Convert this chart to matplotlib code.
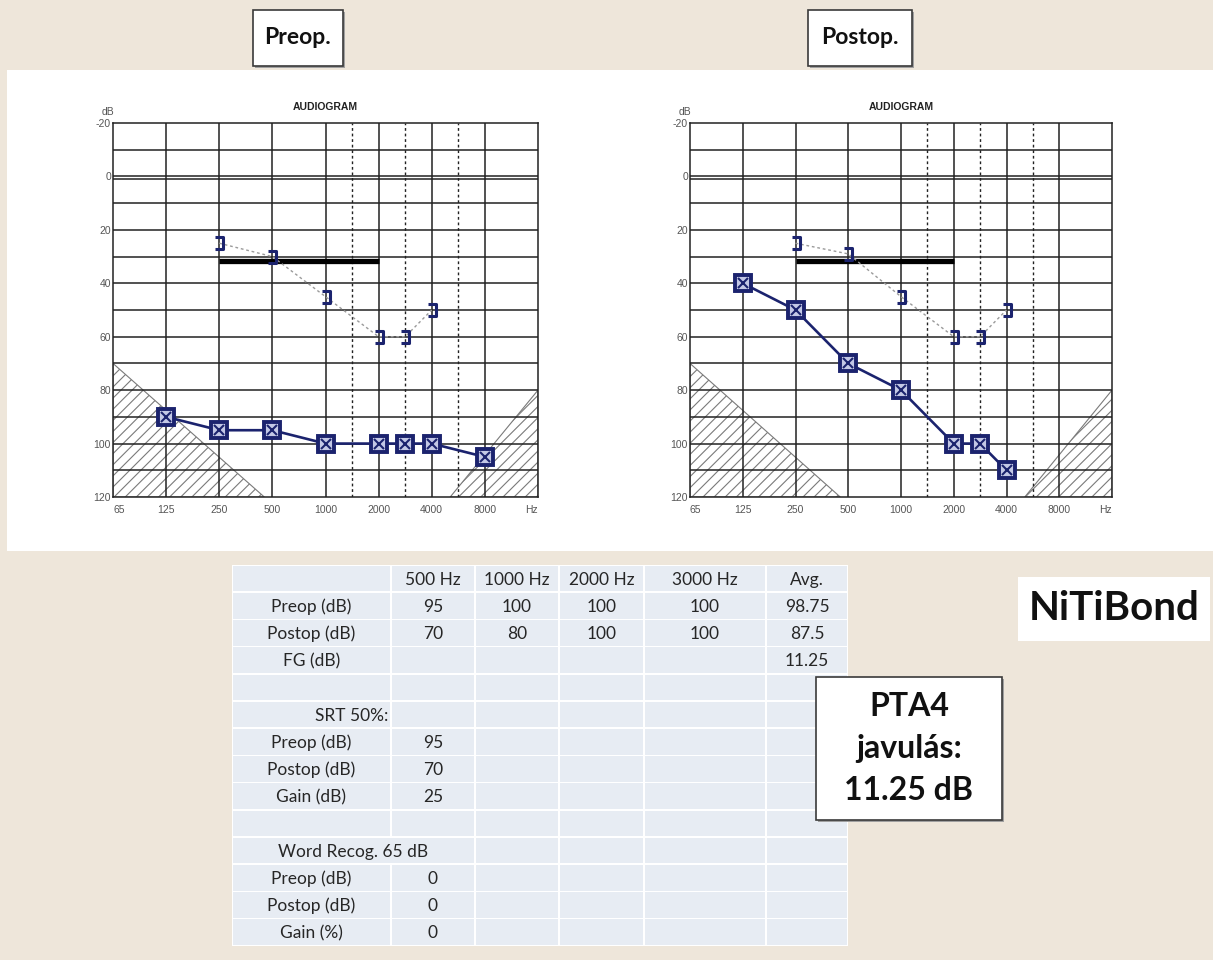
import numpy as np
import matplotlib
matplotlib.use("Agg")
import matplotlib.pyplot as plt
from matplotlib.patches import Rectangle, Polygon
from matplotlib.path import Path
from matplotlib.ticker import NullLocator

plt.rcParams['font.family'] = ['Lato', 'DejaVu Sans']
plt.rcParams['hatch.linewidth'] = 0.8
plt.rcParams['axes.unicode_minus'] = False

# ---------------- data ----------------
freq_ticks = [62.5, 125, 250, 500, 1000, 2000, 4000, 8000, 16000]
freq_labels = ['65', '125', '250', '500', '1000', '2000', '4000', '8000', 'Hz']
half_octaves = [1500, 3000, 6000]

ac_freqs_pre = [125, 250, 500, 1000, 2000, 3000, 4000, 8000]
ac_pre = [90, 95, 95, 100, 100, 100, 100, 105]
ac_freqs_post = [125, 250, 500, 1000, 2000, 3000, 4000]
ac_post = [40, 50, 70, 80, 100, 100, 110]

bc_freqs = [250, 500, 1000, 2000, 3000, 4000]
bc_pre = [25, 30, 45, 60, 60, 50]
bc_post = [25, 29, 45, 60, 60, 50]

bar_freqs = [250, 2000]
bar_level = 31.5

pta_header = ['', '500 Hz', '1000 Hz', '2000 Hz', '3000 Hz', 'Avg.']
pta_pre = [95, 100, 100, 100]
pta_post = [70, 80, 100, 100]
srt_pre, srt_post = 95, 70
word_pre, word_post = 0, 0

# ---------------- audiogram frequency scale ----------------
_scale_f = np.log2([62.5, 125, 250, 500, 1000, 1500, 2000, 3000, 4000, 6000, 8000, 16000])
_scale_p = np.array([0, 1, 2, 3, 4, 4.5, 5, 5.5, 6, 6.5, 7, 8], dtype=float)


def f_fwd(f):
    f = np.asarray(f, dtype=float)
    return np.interp(np.log2(np.clip(f, 1e-6, None)), _scale_f, _scale_p)


def f_inv(p):
    p = np.asarray(p, dtype=float)
    return 2 ** np.interp(p, _scale_p, _scale_f)


W, H = 1213, 960
NAVY = '#1b236e'
BEIGE = '#eee6da'

fig = plt.figure(figsize=(W / 100, H / 100), dpi=100, facecolor=BEIGE)

# background / annotation layer in pixel coordinates
bg = fig.add_axes([0, 0, 1, 1], zorder=0)
bg.set_xlim(0, W)
bg.set_ylim(H, 0)
bg.axis('off')
bg.add_patch(Rectangle((7, 70), W - 7, 481, facecolor='white', edgecolor='none'))

bracket = Path([(-0.6, 1), (0.6, 1), (0.6, -1), (-0.6, -1)],
               [Path.MOVETO, Path.LINETO, Path.LINETO, Path.LINETO])


def audiogram(rect, ac_f, ac_v, bc_v):
    l, t, w, h = rect
    ax = fig.add_axes([l / W, 1 - (t + h) / H, w / W, h / H], zorder=2)
    ax.set_xscale('function', functions=(f_fwd, f_inv))
    ax.set_xlim(62.5, 16000)
    ax.set_ylim(120, -20)
    ax.xaxis.set_minor_locator(NullLocator())
    ax.yaxis.set_minor_locator(NullLocator())

    # masking / no-response hatch zones
    ax.add_patch(Polygon([(62.5, 70), (450, 120), (62.5, 120)], closed=True,
                         facecolor='none', edgecolor='#7a7a7a', hatch='///',
                         lw=0.8, zorder=1))
    ax.add_patch(Polygon([(16000, 80), (5300, 120), (16000, 120)], closed=True,
                         facecolor='none', edgecolor='#7a7a7a', hatch='///',
                         lw=0.8, zorder=1))

    for y in range(-10, 120, 10):
        ax.axhline(y, color='#222222', lw=1.1, zorder=2)
    ax.axhline(1.1, color='#222222', lw=1.1, zorder=2)
    for f in freq_ticks[1:-1]:
        ax.axvline(f, color='#222222', lw=1.1, zorder=2)
    for f in half_octaves:
        ax.axvline(f, color='#222222', lw=1.0, ls=(0, (2, 2)), zorder=2)
    for s in ax.spines.values():
        s.set_color('#222222')
        s.set_linewidth(1.1)

    # thick black bar
    ax.plot(bar_freqs, [bar_level, bar_level], color='black', lw=3.8,
            solid_capstyle='butt', zorder=3)

    # bone conduction
    ax.plot(bc_freqs, bc_v, color='#9a9a9a', lw=1.0, ls=(0, (2, 2)), zorder=4)
    ax.plot(bc_freqs, bc_v, ls='none', marker=bracket, ms=9, mew=2.2,
            mec=NAVY, mfc='none', zorder=5)

    # air conduction
    ax.plot(ac_f, ac_v, color=NAVY, lw=1.9, zorder=6)
    ax.plot(ac_f, ac_v, ls='none', marker='s', ms=11, mew=2.8, mec=NAVY,
            mfc='#c3c8e6', zorder=7)
    ax.plot(ac_f, ac_v, ls='none', marker='x', ms=7.5, mew=1.5, mec=NAVY,
            zorder=8)

    ax.set_yticks(range(-20, 121, 20))
    ax.set_xticks(freq_ticks, labels=freq_labels)
    ax.tick_params(length=0, labelsize=7.5, labelcolor='#555555')
    ax.tick_params(axis='y', pad=1.5)
    ax.tick_params(axis='x', pad=6)
    for lab in ax.get_xticklabels() + ax.get_yticklabels():
        lab.set_fontfamily(['Liberation Sans', 'DejaVu Sans'])
    xl = ax.get_xticklabels()
    xl[0].set_ha('left')
    xl[-1].set_ha('right')
    ax.annotate('dB', xy=(0, 1), xycoords='axes fraction', xytext=(-3.6, 4.5),
                textcoords='offset points', ha='center', va='bottom',
                fontsize=7.5, color='#555555', family=['Liberation Sans'])
    ax.set_title('AUDIOGRAM', fontsize=7.5, fontweight='bold', pad=9,
                 family=['Liberation Sans'], color='#222222')
    return ax


audiogram((113, 123, 425, 374), ac_freqs_pre, ac_pre, bc_pre)
audiogram((690, 123, 422, 374), ac_freqs_post, ac_post, bc_post)


def text_box(x0, y0, x1, y1, lines, size, line_gap, border=True):
    if border:
        bg.add_patch(Rectangle((x0 + 2, y0 + 2), x1 - x0, y1 - y0,
                               facecolor='#a0a0a0', edgecolor='none'))
    bg.add_patch(Rectangle((x0, y0), x1 - x0, y1 - y0, facecolor='white',
                           edgecolor='#3a3a3a' if border else 'none', lw=1.2))
    cx, cy = (x0 + x1) / 2, (y0 + y1) / 2
    n = len(lines)
    for i, s in enumerate(lines):
        bg.text(cx, cy + (i - (n - 1) / 2) * line_gap, s, ha='center',
                va='center', fontsize=size, fontweight='bold', color='#111111')


text_box(253, 10, 343, 66, ['Preop.'], 16.5, 0)
text_box(808, 10, 912, 66, ['Postop.'], 16.5, 0)
text_box(1018, 577, 1210, 641, ['NiTiBond'], 29, 0, border=False)

# ---------------- results table ----------------
col_edges = [232, 391, 475, 559, 644, 766, 848]
row_top, row_h = 565, 27.2

fmt = lambda v: f'{v:g}'
pre_avg = np.mean(pta_pre)
post_avg = np.mean(pta_post)
rows = [
    pta_header,
    ['Preop (dB)'] + [fmt(v) for v in pta_pre] + [fmt(pre_avg)],
    ['Postop (dB)'] + [fmt(v) for v in pta_post] + [fmt(post_avg)],
    ['FG (dB)', '', '', '', '', fmt(pre_avg - post_avg)],
    [''] * 6,
    ['SRT 50%:', '', '', '', '', ''],
    ['Preop (dB)', fmt(srt_pre), '', '', '', ''],
    ['Postop (dB)', fmt(srt_post), '', '', '', ''],
    ['Gain (dB)', fmt(srt_pre - srt_post), '', '', '', ''],
    [''] * 6,
    ['Word Recog. 65 dB', '', '', '', '', ''],
    ['Preop (dB)', fmt(word_pre), '', '', '', ''],
    ['Postop (dB)', fmt(word_post), '', '', '', ''],
    ['Gain (%)', fmt(word_post - word_pre), '', '', '', ''],
]

bg.add_patch(Rectangle((col_edges[0], row_top), col_edges[-1] - col_edges[0],
                       row_h * len(rows), facecolor='white', edgecolor='none'))
for r, row in enumerate(rows):
    y0 = row_top + r * row_h
    cy = y0 + row_h / 2
    merged = row[0].startswith('Word')
    c = 0
    while c < len(col_edges) - 1:
        x0 = col_edges[c]
        x1 = col_edges[c + 2] if (merged and c == 0) else col_edges[c + 1]
        bg.add_patch(Rectangle((x0 + 0.8, y0 + 0.8), x1 - x0 - 1.6, row_h - 1.6,
                               facecolor='#e7ecf3', edgecolor='none'))
        c += 2 if (merged and c == 0) else 1
    for c, s in enumerate(row):
        if not s:
            continue
        cx = (col_edges[c] + col_edges[c + 1]) / 2
        ha = 'center'
        if c == 0 and s.startswith('SRT'):
            cx, ha = col_edges[1] - 3, 'right'
        elif c == 0 and merged:
            cx, ha = 278, 'left'
        bg.text(cx, cy + 1, s, ha=ha, va='center', fontsize=12.5,
                color='#262626')

text_box(816, 677, 1002, 820, ['PTA4', 'javulás:', '11.25 dB'], 23, 42.5)

fig.savefig('out.png', dpi=100, facecolor=BEIGE)
